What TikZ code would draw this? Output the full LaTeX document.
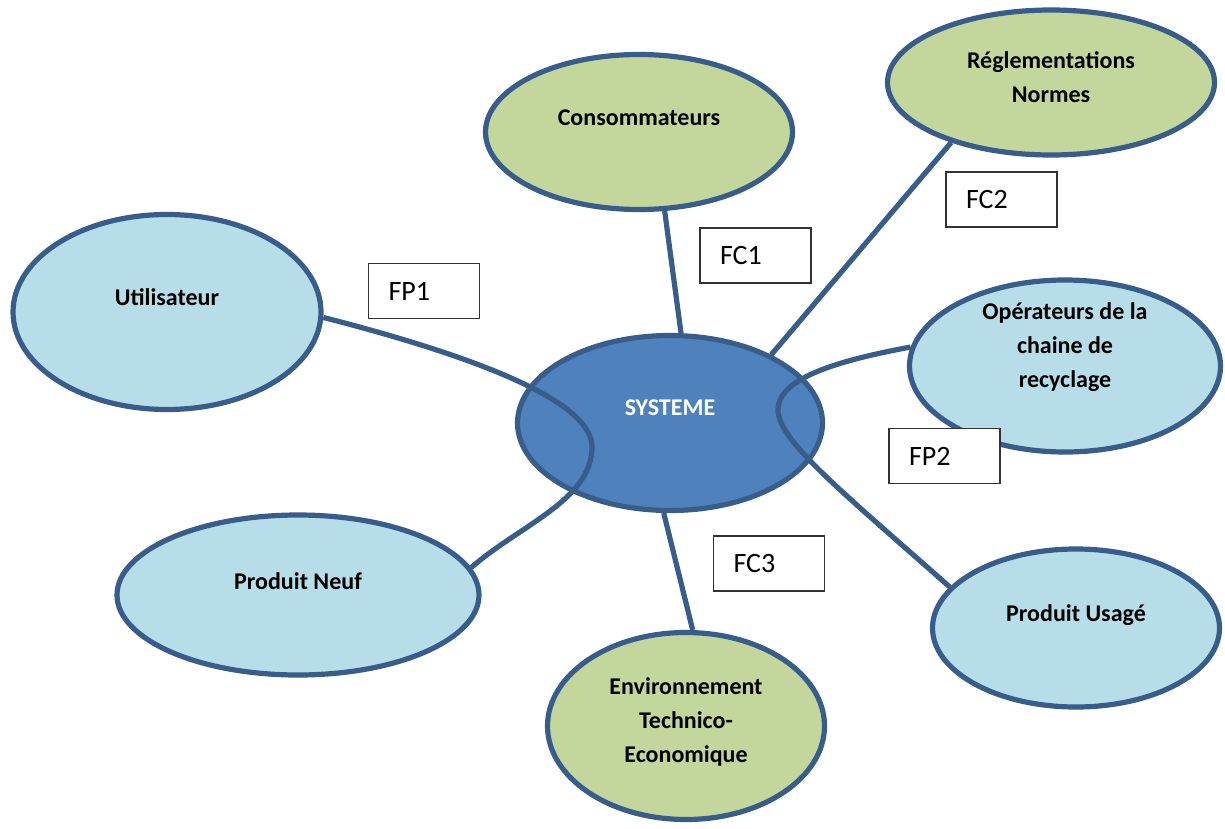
\documentclass[tikz,border=0pt]{standalone}
\usepackage{fontspec}
\setmainfont{Carlito}
\usetikzlibrary{shapes.geometric}
\definecolor{bordure}{HTML}{385D8A}
\definecolor{bleuclair}{HTML}{B7DDE8}
\definecolor{vertclair}{HTML}{C3D69B}
\definecolor{bleusys}{HTML}{4F81BD}
\tikzset{
 acteur/.style={ellipse, draw=bordure, line width=2.6pt, inner sep=0pt},
 lien/.style={draw=bordure, line width=2.6pt},
 cadre/.style={draw=black!80, line width=0.6pt, fill=white, minimum width=55.5pt,
   minimum height=27.5pt, text width=35.5pt, inner xsep=10pt, align=left,
   font=\fontsize{14}{17}\selectfont},
 nom/.style={font=\fontsize{12}{17}\selectfont\bfseries, align=center}
}
\begin{document}
\begin{tikzpicture}[x=0.5pt,y=-0.5pt]
\useasboundingbox (0,0) rectangle (1225,829);

% acteurs autour du systeme
\node[acteur, fill=vertclair, minimum width=153.5pt, minimum height=77.5pt] (cons) at (639,132) {};
\node[acteur, fill=vertclair, minimum width=163.5pt, minimum height=72.5pt] (regl) at (1051,82.5) {};
\node[acteur, fill=bleuclair, minimum width=154pt, minimum height=97.5pt] (util) at (167,312) {};
\node[acteur, fill=bleuclair, minimum width=155.5pt, minimum height=86pt] (oper) at (1065,366) {};
\node[acteur, fill=bleuclair, minimum width=181pt, minimum height=80pt] (neuf) at (298,595) {};
\node[acteur, fill=bleuclair, minimum width=143.5pt, minimum height=79pt] (usage) at (1076,628) {};
\node[acteur, fill=vertclair, minimum width=138.5pt, minimum height=93.5pt] (env) at (686,726) {};
\node[acteur, fill=bleusys, minimum width=152.5pt, minimum height=87.5pt] (sys) at (670,423) {};

% fonctions de contrainte
\draw[lien] (cons.-72.6) -- (sys.83.7);
\draw[lien] (regl.211) -- (sys.34.2);
\draw[lien] (env.86.4) -- (sys.266.9);

% fonctions principales
\coordinate (k1) at (592,447);
\draw[lien] (util.-2) .. controls (470,355) and (592,400) .. (k1)
  .. controls (592,500) and (520,525) .. (neuf.9);
\coordinate (k2) at (778,410);
\draw[lien] (oper.173.5) .. controls (830,362) and (778,380) .. (k2)
  .. controls (778,440) and (840,490) .. (usage.162);

% textes
\node[nom] (tcons) at (639,118) {Consommateurs};
\node[nom] (tregl) at (1051,77) {Réglementations\\Normes};
\node[nom] (tutil) at (167,297) {Utilisateur};
\node[nom] (toper) at (1065,347) {Opérateurs de la\\chaine de\\recyclage};
\node[nom] (tneuf) at (298,581) {Produit Neuf};
\node[nom] (tusage) at (1076,615) {Produit Usagé};
\node[nom] (tenv) at (686,722) {Environnement\\Technico-\\Economique};
\node[nom, text=white] (tsys) at (670,408) {SYSTEME};

% cadres des fonctions
\foreach \f/\x/\y in {FP1/424/291,FC1/755.5/255.5,FC2/1001.5/199.5,FP2/944.5/456,FC3/769/563.5}
\node[cadre] (\f) at (\x,\y) {\f};

\end{tikzpicture}
\end{document}
